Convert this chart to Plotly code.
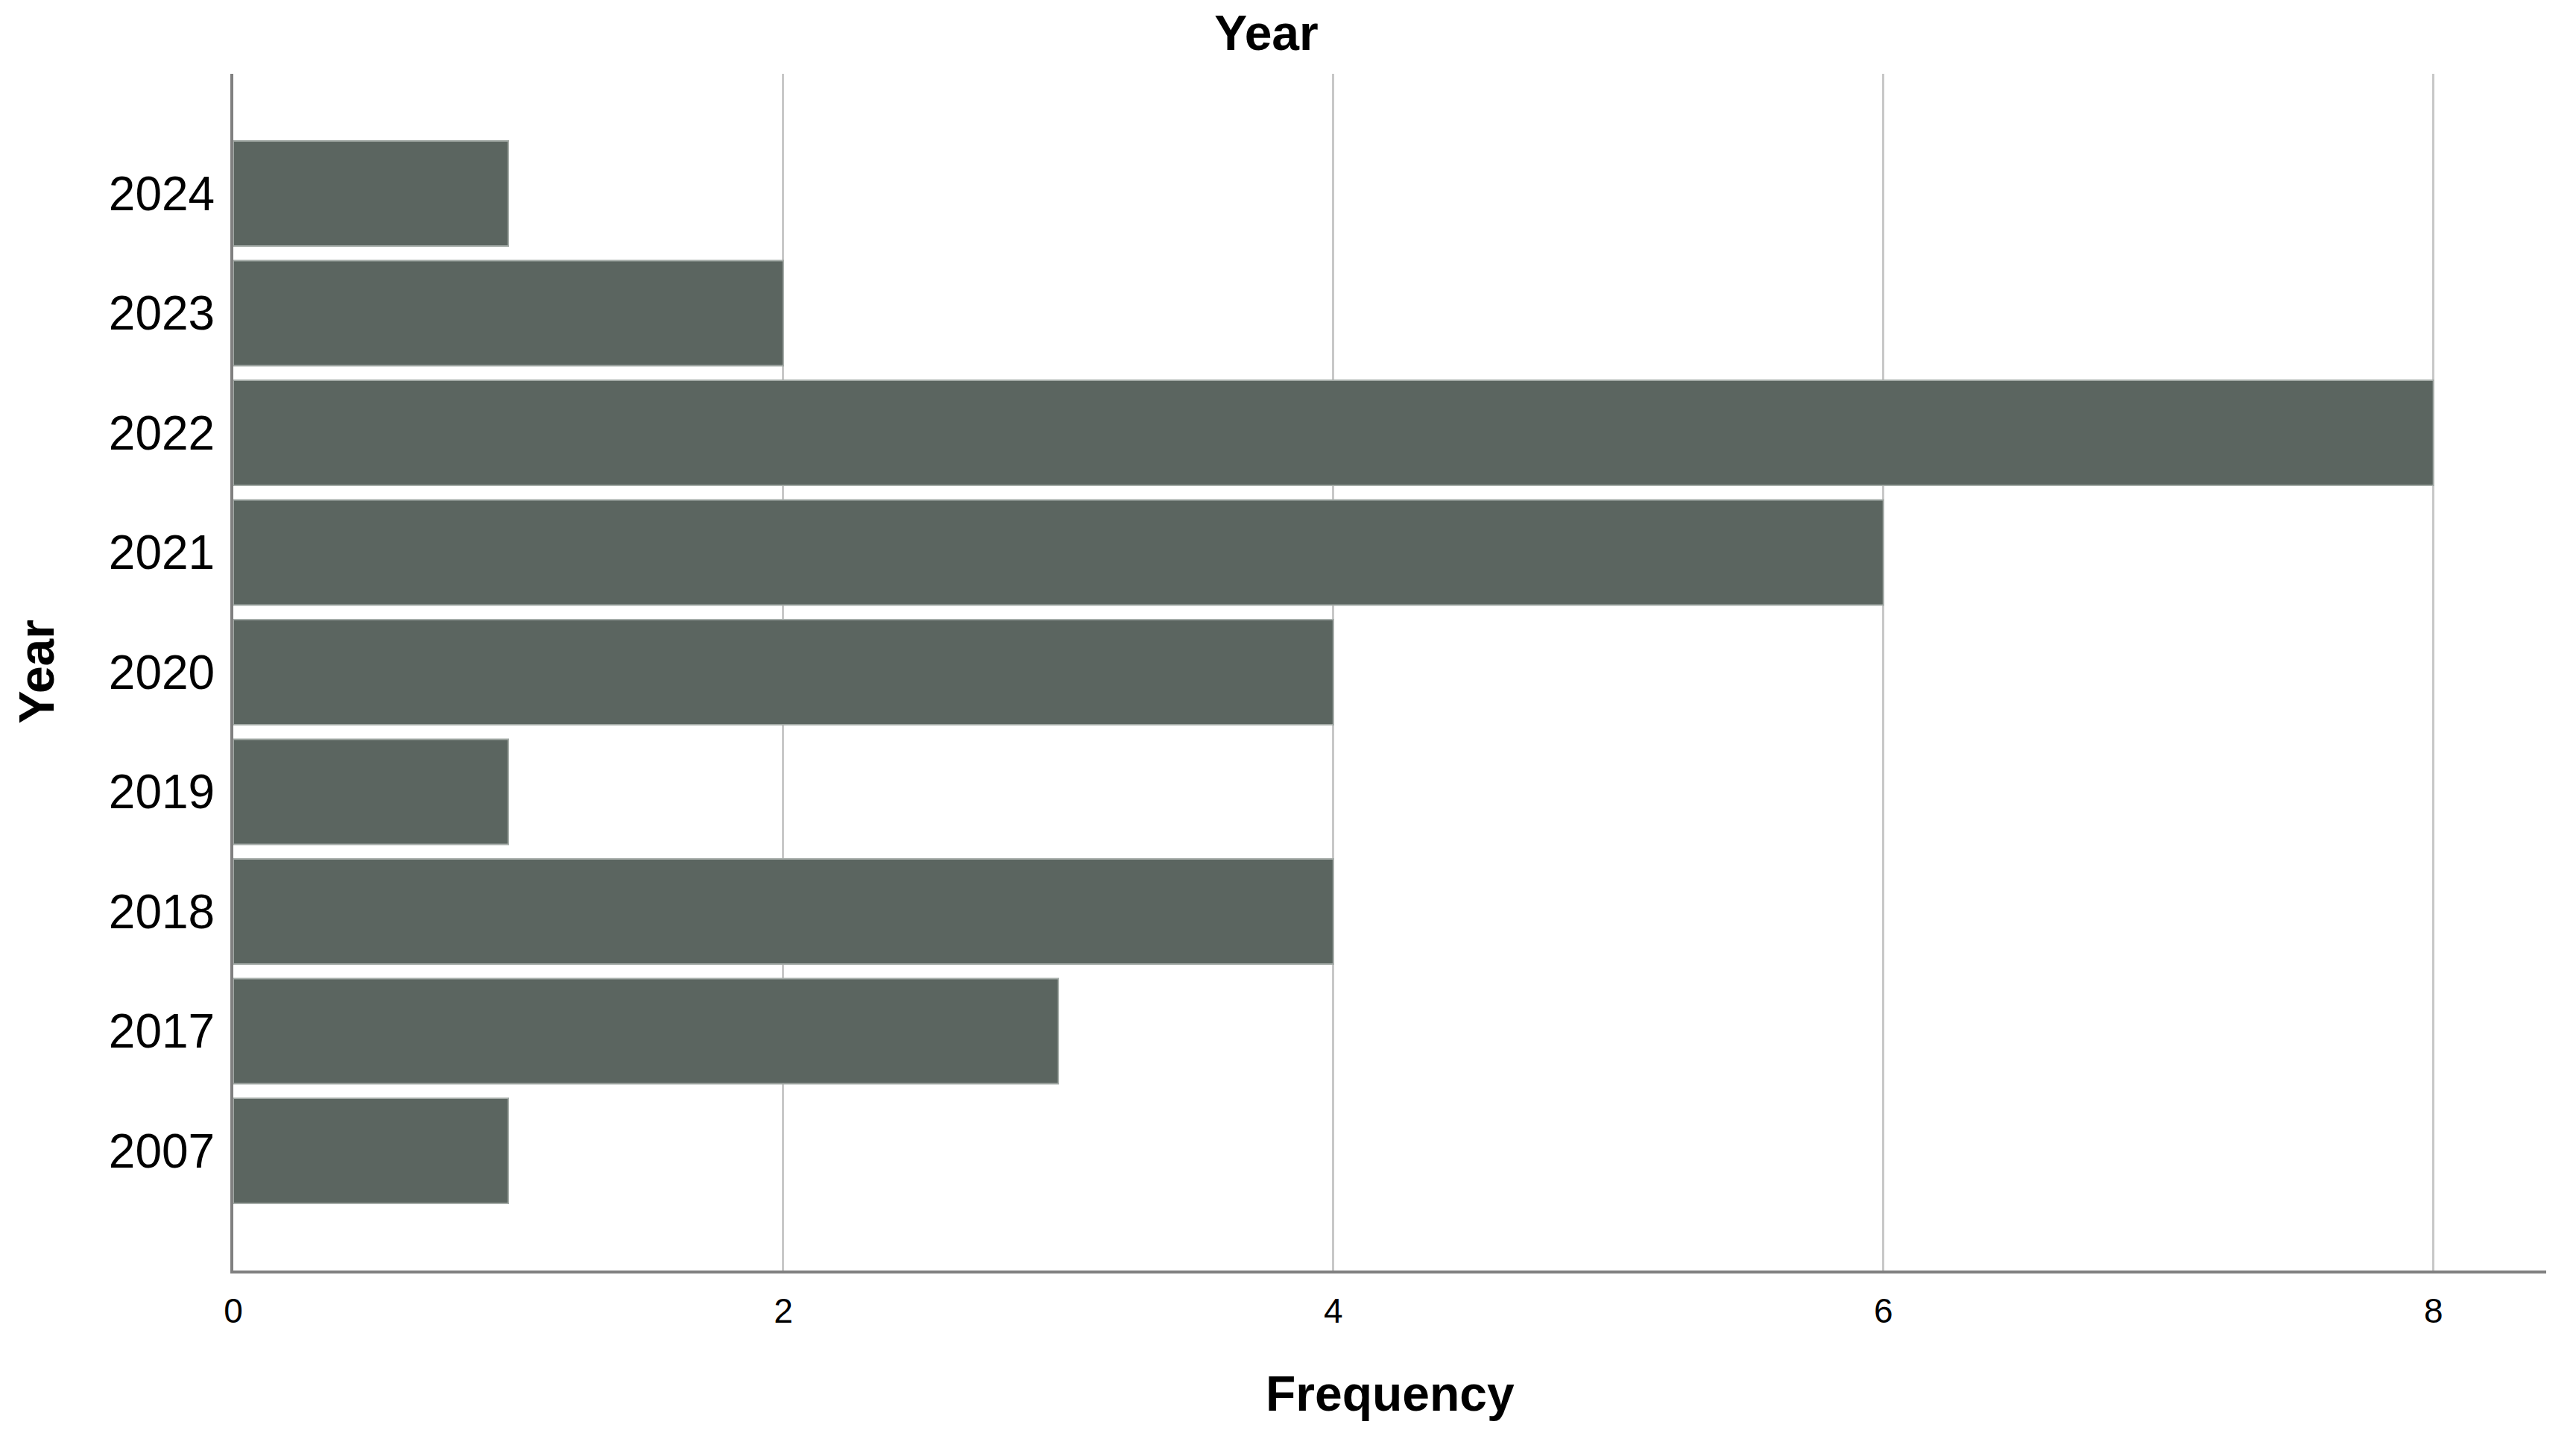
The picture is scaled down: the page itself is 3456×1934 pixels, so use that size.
"""Frequency of records per year, horizontal bar chart."""
import plotly.graph_objects as go

YEARS = ["2007", "2017", "2018", "2019", "2020", "2021", "2022", "2023", "2024"]
FREQUENCY = [1, 3, 4, 1, 4, 6, 8, 2, 1]
X_TICKS = [0, 2, 4, 6, 8]

FONT = "Liberation Sans, Arial, sans-serif"
# the page body adds an 8px offset, so the margins are shifted to compensate
OFFSET = 8

fig = go.Figure(
    go.Bar(
        x=FREQUENCY,
        y=YEARS,
        orientation="h",
        marker=dict(color="#5b6560", line=dict(color="#a4aba7", width=2)),
    )
)

fig.update_layout(
    width=3456,
    height=1934,
    margin=dict(l=313 - OFFSET, r=40 + OFFSET, t=99 - OFFSET, b=230 + OFFSET),
    paper_bgcolor="white",
    plot_bgcolor="white",
    bargap=0.12,
    showlegend=False,
    font=dict(family=FONT, color="black"),
    title=dict(
        text="<b>Year</b>",
        x=(1699 - OFFSET) / 3456,
        xref="container",
        xanchor="center",
        y=1 - (44 - OFFSET) / 1934,
        yref="container",
        yanchor="middle",
        font=dict(size=66, family=FONT, color="black"),
    ),
)

fig.update_xaxes(
    range=[0, 8.41],
    tickvals=X_TICKS,
    ticktext=[str(t) for t in X_TICKS],
    tickfont=dict(size=46),
    ticks="",
    ticklabelstandoff=11,
    showgrid=True,
    gridcolor="#c8c8c8",
    gridwidth=3,
    zeroline=False,
    showline=True,
    linecolor="#808080",
    linewidth=4,
)

fig.update_yaxes(
    type="category",
    categoryorder="array",
    categoryarray=YEARS,
    range=[-1, 9],
    tickfont=dict(size=64),
    ticks="",
    ticklabelstandoff=8,
    showgrid=False,
    zeroline=False,
    showline=True,
    linecolor="#808080",
    linewidth=4,
)

fig.add_annotation(
    text="<b>Frequency</b>",
    xref="paper",
    yref="paper",
    x=0.5,
    y=-(1869 - 1704) / 1605,
    xanchor="center",
    yanchor="middle",
    showarrow=False,
    font=dict(size=66, family=FONT, color="black"),
)
fig.add_annotation(
    text="<b>Year</b>",
    xref="paper",
    yref="paper",
    x=-(313 - 48) / 3103,
    y=0.5,
    xanchor="center",
    yanchor="middle",
    textangle=-90,
    showarrow=False,
    font=dict(size=66, family=FONT, color="black"),
)

fig.write_html("out.html")
